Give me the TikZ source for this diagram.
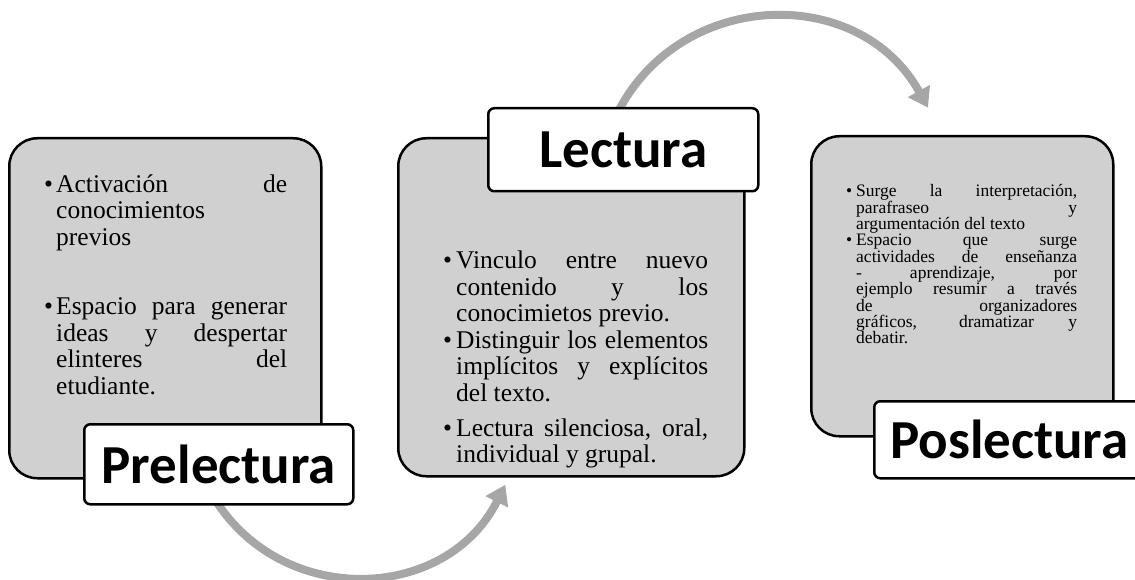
\documentclass[tikz,border=0pt]{standalone}
\usepackage{fontspec}
\setmainfont{Liberation Serif}
\newfontfamily\tagfont{Carlito}
\usetikzlibrary{arrows.meta}

\definecolor{stagegray}{HTML}{D0D0D0}
\definecolor{flowgray}{HTML}{A6A6A6}

\newlength{\bulind}
\newcommand{\itm}[1]{\noindent\hangindent=\bulind\hangafter=1\makebox[\bulind][l]{\textbullet}#1\par}
\newcommand{\notesetup}[3]{\fontsize{#1}{#2}\selectfont\lineskiplimit=-50pt\hyphenpenalty=10000\exhyphenpenalty=10000\tolerance=10000\setlength{\bulind}{#3}}

\begin{document}
\begin{tikzpicture}[x=1pt,y=-1pt,
  stage/.style={draw,line width=2.5pt,fill=stagegray,rounded corners=28pt,anchor=north west,inner sep=0pt},
  tag/.style={draw,line width=2.5pt,fill=white,rounded corners=6pt,anchor=north west,inner sep=0pt,font=\tagfont\bfseries\fontsize{55}{60}\selectfont},
  notes/.style={anchor=base west,inner sep=0pt,align=justify},
  flow/.style={draw=flowgray,line width=8pt,-{Triangle[width=24pt,length=19pt]}}]
  \useasboundingbox (0,0) rectangle (1135,580);
  % arrows go under the boxes
  \coordinate (b1) at (211.4,493.5);
  \coordinate (b2) at (505.3,484.8);
  \coordinate (t1) at (614.8,118.4);
  \coordinate (t2) at (928,107.7);
  \draw[flow] (b1) .. controls +(66.5,115.2) and +(-59.6,118.9) .. (b2);
  \draw[flow] (t1) .. controls +(60.7,-130.1) and +(-69.4,-125.7) .. (t2);
  % the three stages
  \node[stage,minimum width=312pt,minimum height=340pt] (pre) at (8,137) {};
  \node[stage,minimum width=346pt,minimum height=338pt] (lec) at (397,137) {};
  \node[stage,minimum width=302pt,minimum height=300pt] (pos) at (810,135) {};
  \node[notes,text width=243pt] (pretxt) at (44,192.5) {\notesetup{25.5}{26.5}{12pt}%
    \itm{Activación de\linebreak conocimientos\linebreak previos}
    \vspace{43pt}
    \itm{Espacio para generar\linebreak ideas y despertar\linebreak elinteres del\linebreak etudiante.}};
  \node[notes,text width=265pt] (lectxt) at (443,269) {\notesetup{25.5}{26.5}{13pt}%
    \itm{Vinculo entre nuevo\linebreak contenido y los\linebreak conocimietos previo.}
    \itm{Distinguir los elementos\linebreak implícitos y explícitos\linebreak del texto.}
    \vspace{8.5pt}
    \itm{Lectura silenciosa, oral,\linebreak individual y grupal.}};
  \node[notes,text width=231pt] (postxt) at (846,197) {\notesetup{17.5}{16.3}{10pt}%
    \itm{Surge la interpretación,\linebreak parafraseo y\linebreak argumentación del texto}
    \itm{Espacio que surge\linebreak actividades de enseñanza\linebreak - aprendizaje, por\linebreak ejemplo resumir a través\linebreak de organizadores\linebreak gráficos, dramatizar y\linebreak debatir.}};
  % titles
  \node[tag,minimum width=269pt,minimum height=80pt] (pretag) at (83,423) {Prelectura};
  \node[tag,minimum width=270pt,minimum height=83pt] (lectag) at (487,107) {Lectura};
  \node[tag,minimum width=270pt,minimum height=77pt] (postag) at (873,400) {Poslectura};
\end{tikzpicture}
\end{document}
